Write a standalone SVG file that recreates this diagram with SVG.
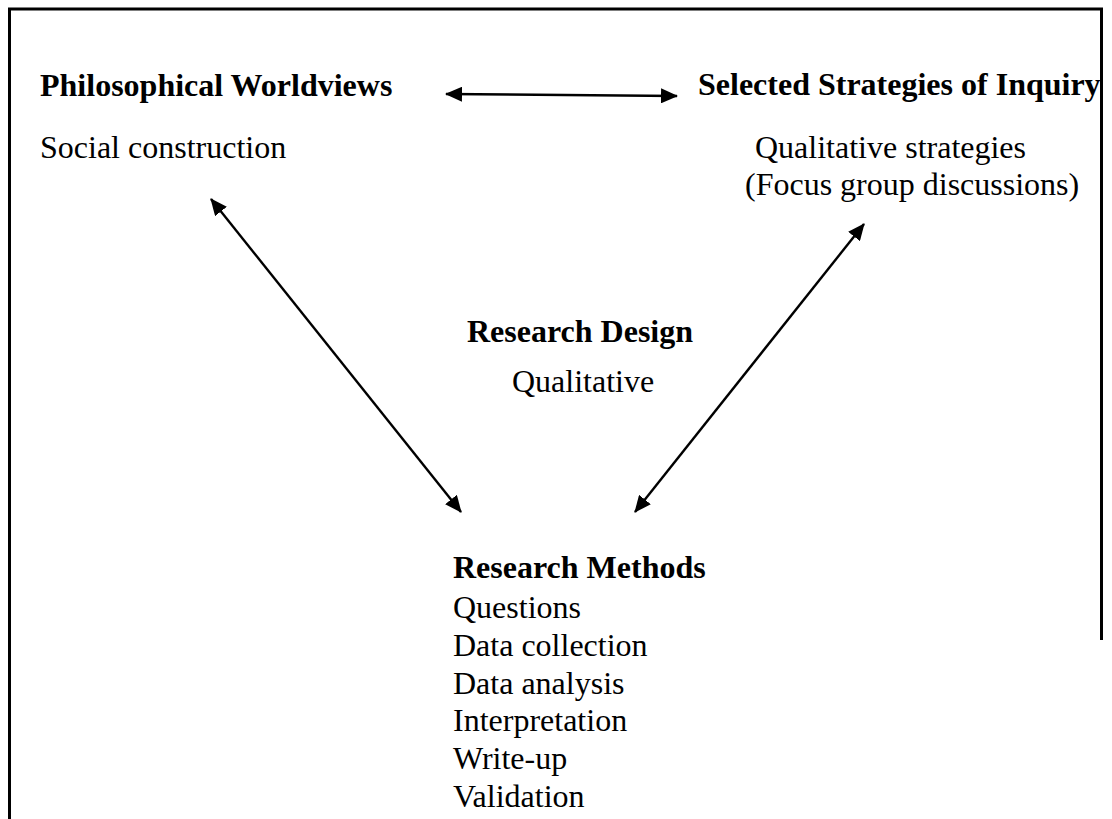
<svg xmlns="http://www.w3.org/2000/svg" width="1112" height="819" viewBox="0 0 1112 819">
<style>
text{font-family:"Liberation Serif","Times New Roman",serif;font-size:32px;fill:#000}
.b{font-weight:bold}
.c{stroke:#000;stroke-width:2.4;fill:none;marker-start:url(#ah);marker-end:url(#ah)}
.frame{stroke:#000;stroke-width:3;fill:none}
</style>
<defs>
<marker id="ah" viewBox="0 0 17 15" refX="16" refY="7.5" markerWidth="17" markerHeight="15" markerUnits="userSpaceOnUse" orient="auto-start-reverse">
<path d="M0,0 L17,7.5 L0,15 z" fill="#000"/>
</marker>
</defs>
<rect width="1112" height="819" fill="#fff"/>
<path class="frame" d="M9.5,819 V9 H1101.5 V640"/>
<g id="connectors">
<line class="c" x1="446" y1="94" x2="677" y2="96"/>
<line class="c" x1="211" y1="199" x2="461" y2="512"/>
<line class="c" x1="864" y1="224" x2="635" y2="512"/>
</g>
<g id="worldviews">
<text class="b" x="40" y="96">Philosophical Worldviews</text>
<text x="40" y="158">Social construction</text>
</g>
<g id="strategies">
<text class="b" x="698" y="95">Selected Strategies of Inquiry</text>
<text x="755" y="158">Qualitative strategies</text>
<text x="745" y="195">(Focus group discussions)</text>
</g>
<g id="design">
<text class="b" x="467" y="342">Research Design</text>
<text x="512" y="392">Qualitative</text>
</g>
<g id="methods">
<text class="b" x="453" y="578">Research Methods</text>
<text x="453" y="618">Questions</text>
<text x="453" y="656">Data collection</text>
<text x="453" y="694">Data analysis</text>
<text x="453" y="731">Interpretation</text>
<text x="453" y="769">Write-up</text>
<text x="453" y="807">Validation</text>
</g>
</svg>
